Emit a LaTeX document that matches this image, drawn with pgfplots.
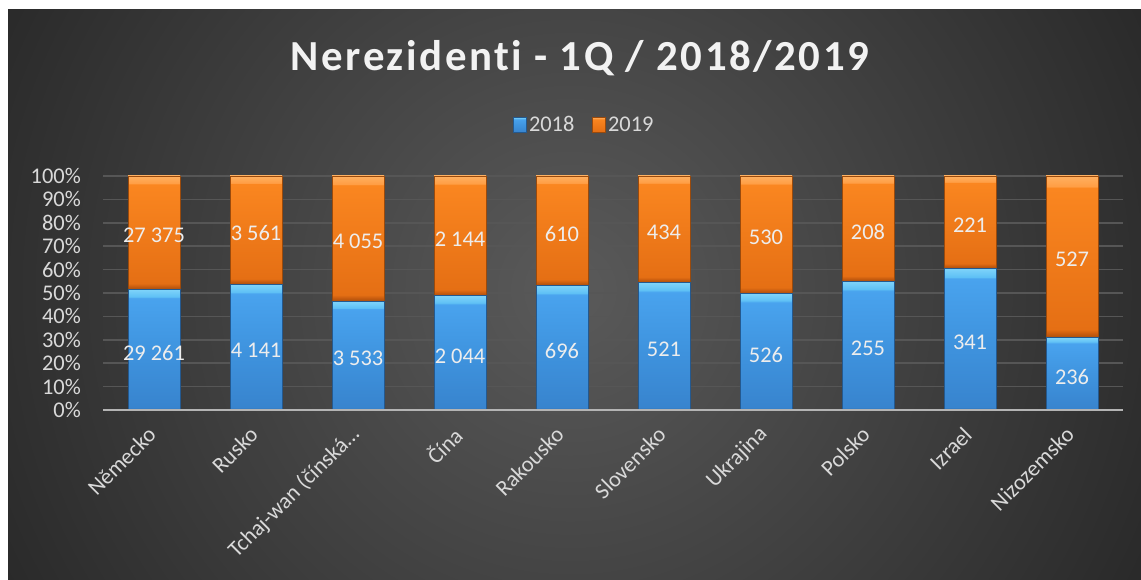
\documentclass[border=0pt]{standalone}
\usepackage{fontspec}
\setmainfont{Carlito}[Ligatures=NoCommon]
\newfontfamily\titlefont{Carlito}[LetterSpace=6.0, Ligatures=NoCommon]
\usepackage{pgfplots}
\usepackage{pgfplotstable}
\pgfplotsset{compat=1.18}

\definecolor{bgc}{HTML}{5A5A5A}
\definecolor{bgm}{HTML}{444444}
\definecolor{bge}{HTML}{282828}
\definecolor{gridc}{HTML}{565656}
\definecolor{axisc}{HTML}{B4B4B4}
\definecolor{tickc}{HTML}{D9D9D9}
\definecolor{valc}{HTML}{EDEDED}
\definecolor{titlec}{HTML}{F2F2F2}
% blue
\definecolor{bA}{HTML}{2C6CAE}
\definecolor{bB}{HTML}{3884CE}
\definecolor{bC}{HTML}{3F94DF}
\definecolor{bD}{HTML}{49A3EE}
\definecolor{bE}{HTML}{5EC0F5}
\definecolor{bF}{HTML}{80D4FA}
\definecolor{bEdge}{HTML}{24598F}
% orange
\definecolor{oA}{HTML}{A9500D}
\definecolor{oB}{HTML}{C85C0F}
\definecolor{oC}{HTML}{E56F14}
\definecolor{oD}{HTML}{FA8620}
\definecolor{oE}{HTML}{FF9E45}
\definecolor{oF}{HTML}{FFB060}
\definecolor{oEdge}{HTML}{9A4A0C}

\pgfdeclareverticalshading{blueshade}{100bp}{color(0bp)=(bA); color(25bp)=(bA); color(26bp)=(bB); color(50bp)=(bC); color(71.3bp)=(bD); color(71.8bp)=(bE); color(75bp)=(bF); color(100bp)=(bF)}
\pgfdeclareverticalshading{orangeshade}{100bp}{color(0bp)=(oA); color(25bp)=(oA); color(26.2bp)=(oB); color(27.5bp)=(oC); color(71.3bp)=(oD); color(71.8bp)=(oE); color(75bp)=(oF); color(100bp)=(oF)}
\pgfdeclareradialshading{bgshade}{\pgfpoint{0bp}{0bp}}{color(0bp)=(bgc); color(11bp)=(bgm); color(25bp)=(bge); color(50bp)=(bge)}

% value labels: x, centre of each segment, printed values
\pgfplotstableread[col sep=comma]{
x,m18,m19,l18,l19
0,25.83,75.83,29 261,27 375
1,26.88,76.88,4 141,3 561
2,23.28,73.28,3 533,4 055
3,24.40,74.40,2 044,2 144
4,26.65,76.65,696,610
5,27.28,77.28,521,434
6,24.91,74.91,526,530
7,27.54,77.54,255,208
8,30.34,80.34,341,221
9,15.47,65.47,236,527
}\labels

\tikzset{
  bluebar/.style={shade, shading=blueshade, draw=bEdge, line width=0.6bp},
  orangebar/.style={shade, shading=orangeshade, draw=oEdge, line width=0.6bp},
}
\pgfplotsset{
  common/.style={
    at={(103bp,170bp)}, anchor=south west,
    scale only axis, width=1020bp, height=234bp,
    xmin=-0.5, xmax=9.5, ymin=0, ymax=100,
  },
}
% one stacked bar (2018 share, 2019 share) per category, so that each bar is shaded on its own
\newcommand\catbar[3]{%
\begin{axis}[common, hide axis, ybar stacked, bar width=52bp]
\addplot[bluebar] coordinates {(#1,#2)};
\addplot[orangebar] coordinates {(#1,#3)};
\end{axis}}

\begin{document}
\begin{tikzpicture}
\useasboundingbox (0bp,0bp) rectangle (1141bp,580bp);
\fill[white] (0bp,0bp) rectangle (1141bp,580bp);
\begin{scope}
\clip (8bp,0bp) rectangle (1141bp,570bp);
\shade[shading=bgshade] (570bp,290bp) circle (660bp);
\end{scope}
\node[text=titlec] at (580bp,522bp) {\titlefont\bfseries\fontsize{43}{50}\selectfont Nerezidenti - 1Q / 2018/2019};

\begin{axis}[common,
  xtick={0,...,9},
  xticklabels={Německo, Rusko, Tchaj-wan (čínská…, Čína, Rakousko, Slovensko, Ukrajina, Polsko, Izrael, Nizozemsko},
  ytick={0,10,...,100},
  yticklabels={0\%,10\%,20\%,30\%,40\%,50\%,60\%,70\%,80\%,90\%,100\%},
  ymajorgrids, grid style={draw=gridc, line width=1.5bp},
  major tick length=0pt,
  axis line style={draw=none},
  tick label style={font=\fontsize{22.5}{26}\selectfont, text=tickc},
  yticklabel style={anchor=east, inner sep=0pt, xshift=-22bp},
  xticklabel style={yshift=-21bp, xshift=-2bp, rotate=45, anchor=east, inner sep=0pt},
  legend style={at={(0.472,1.218)}, anchor=center, draw=none, fill=none,
    legend columns=2, font=\fontsize{22.5}{26}\selectfont, text=tickc,
    /tikz/every even column/.append style={column sep=16bp},
    nodes={inner sep=2bp}},
]
\addlegendimage{legend image code/.code={\path[bluebar] (0bp,-7.5bp) rectangle (13bp,7.5bp);}}
\addlegendentry{2018}
\addlegendimage{legend image code/.code={\path[orangebar] (0bp,-7.5bp) rectangle (13bp,7.5bp);}}
\addlegendentry{2019}
\end{axis}

\catbar{0}{51.665}{48.335}
\catbar{1}{53.765}{46.235}
\catbar{2}{46.560}{53.440}
\catbar{3}{48.806}{51.194}
\catbar{4}{53.292}{46.708}
\catbar{5}{54.555}{45.445}
\catbar{6}{49.811}{50.189}
\catbar{7}{55.076}{44.924}
\catbar{8}{60.676}{39.324}
\catbar{9}{30.930}{69.070}

\begin{axis}[common, axis lines*=left, xtick=\empty, ytick=\empty,
  x axis line style={draw=axisc, line width=2.5bp, -},
  y axis line style={draw=none}]
\addplot[draw=none, nodes near coords, point meta=explicit symbolic,
  nodes near coords style={anchor=center, yshift=-3bp, text=valc, font=\fontsize{22.5}{26}\selectfont}]
  table[x=x, y=m18, meta=l18]{\labels};
\addplot[draw=none, nodes near coords, point meta=explicit symbolic,
  nodes near coords style={anchor=center, yshift=-3bp, text=valc, font=\fontsize{22.5}{26}\selectfont}]
  table[x=x, y=m19, meta=l19]{\labels};
\end{axis}
\end{tikzpicture}
\end{document}
